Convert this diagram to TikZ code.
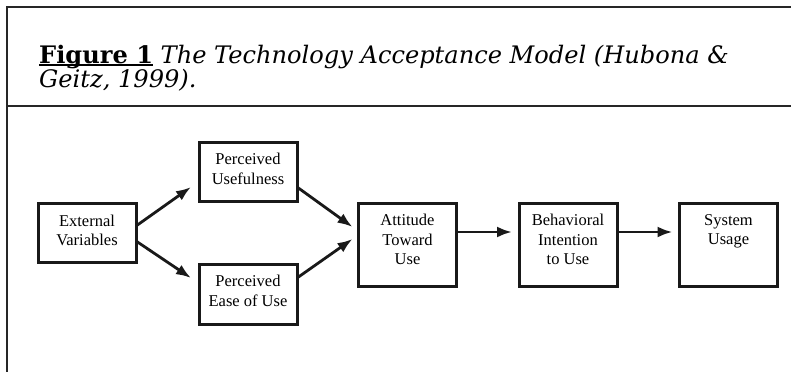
\documentclass[tikz,border=0pt]{standalone}
\usepackage{fontspec}
\setmainfont{Liberation Serif}
\newfontfamily\titlefont{DejaVu Serif}
\usetikzlibrary{arrows.meta}
\newcommand\myul[1]{\setbox0\hbox{#1}\rlap{\rule[-2.8pt]{\wd0}{1.4pt}}\box0}
\begin{document}
\begin{tikzpicture}[x=1pt,y=-1pt,
  box/.style={draw=black!90,line width=3pt,minimum width=98pt,inner sep=0pt,outer sep=0pt},
  boxtxt/.style={anchor=north,align=center,inner sep=0pt,font=\fontsize{16.5}{19.5}\selectfont},
  arr/.style={line width=2.8pt,black!90,-{Latex[length=15pt,width=11pt]}},
  frame/.style={line width=2.6pt,black!85}]
\useasboundingbox (0,0) rectangle (791,372);
% frame
\coordinate (tl) at (7,7);
\coordinate (tr) at (791,7);
\coordinate (bl) at (7,372);
\coordinate (sl) at (7,106);
\coordinate (sr) at (791,106);
\draw[frame] (tr) -- (tl) -- (bl);
\draw[frame] (sl) -- (sr);
% title
\node[anchor=base west,inner sep=0pt,font=\titlefont\fontsize{24.1}{23}\selectfont] (t1) at (39,63)
  {\textbf{\myul{Figure 1}} \textit{The Technology Acceptance Model (Hubona \&}};
\node[anchor=base west,inner sep=0pt,font=\titlefont\fontsize{24.1}{23}\selectfont] (t2) at (39,87)
  {\textit{Geitz, 1999).}};
% boxes
\node[box,minimum height=59pt] (ev) at (87,233) {};
\node[box,minimum height=59pt] (pu) at (248,171.5) {};
\node[box,minimum height=60pt] (peou) at (248,294) {};
\node[box,minimum height=83pt] (att) at (407.5,244.5) {};
\node[box,minimum height=83pt] (bi) at (568,244.5) {};
\node[box,minimum height=83pt] (su) at (728.5,244.5) {};
% texts
\node[boxtxt] (evt) at ([yshift=-11pt]ev.north) {External\\Variables};
\node[boxtxt] (put) at ([yshift=-11pt]pu.north) {Perceived\\Usefulness};
\node[boxtxt] (peout) at ([yshift=-11pt]peou.north) {Perceived\\Ease of Use};
\node[boxtxt] (attt) at ([yshift=-11pt]att.north) {Attitude\\Toward\\Use};
\node[boxtxt] (bit) at ([yshift=-11pt]bi.north) {Behavioral\\Intention\\to Use};
\node[boxtxt] (sut) at ([yshift=-11pt]su.north) {System\\Usage};
% arrows
\draw[arr] ([yshift=7pt]ev.east) -- ([xshift=-8pt,yshift=-15.5pt]pu.west);
\draw[arr] ([yshift=-8pt]ev.east) -- ([xshift=-8pt,yshift=16pt]peou.west);
\draw[arr] ([yshift=-15.5pt]pu.east) -- ([xshift=-6pt,yshift=17.5pt]att.west);
\draw[arr] ([yshift=16pt]peou.east) -- ([xshift=-6pt,yshift=5.5pt]att.west);
\draw[arr] ([yshift=12.5pt]att.east) -- ([xshift=-7pt,yshift=12.5pt]bi.west);
\draw[arr] ([yshift=12.5pt]bi.east) -- ([xshift=-7pt,yshift=12.5pt]su.west);
\end{tikzpicture}
\end{document}
